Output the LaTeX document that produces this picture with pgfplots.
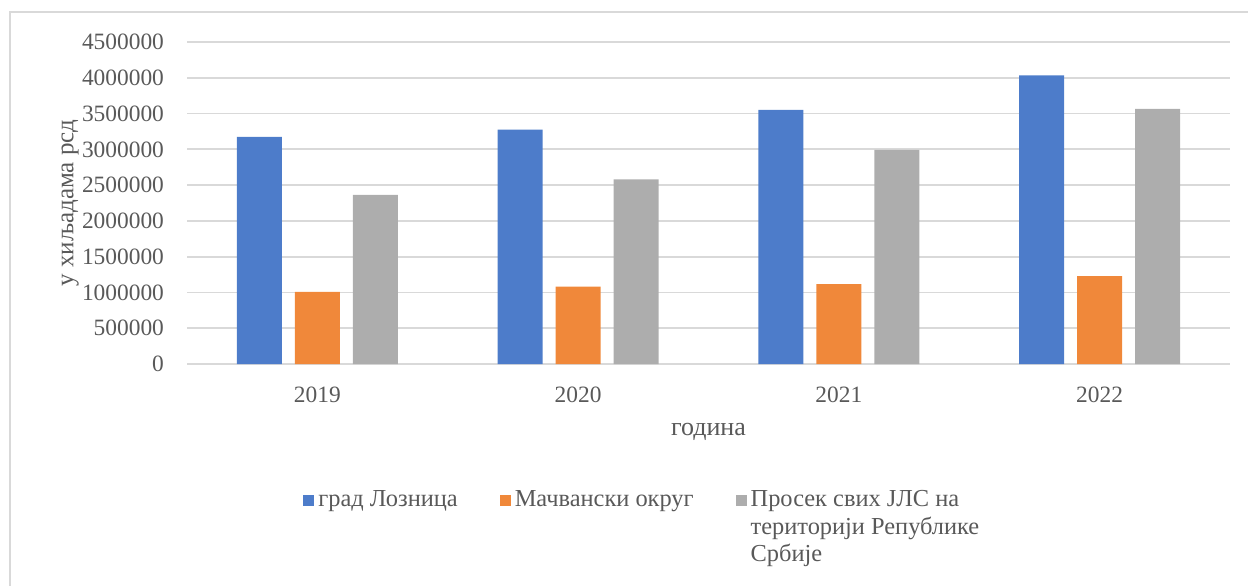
\documentclass[border=0pt]{standalone}
\usepackage{fontspec}
\setmainfont{Liberation Serif}
\usepackage{pgfplots}
\pgfplotsset{compat=1.18}
\definecolor{cblue}{HTML}{4D7CCA}
\definecolor{corange}{HTML}{F0883A}
\definecolor{cgray}{HTML}{ADADAD}
\definecolor{ctext}{HTML}{595959}
\definecolor{cgrid}{HTML}{D9D9D9}
\begin{document}
\begin{tikzpicture}
\useasboundingbox (0,0) rectangle (624pt,-292.5pt);
\draw[cgrid, line width=0.75pt] (5pt,-300pt) -- (5pt,-6pt) -- (630pt,-6pt);
\begin{axis}[
  scale only axis,
  width=521.5pt, height=161pt,
  at={(93.5pt,-182pt)}, anchor=south west,
  ymin=0, ymax=4500000,
  xmin=-0.5, xmax=3.5,
  axis line style={draw=none},
  ymajorgrids, grid style={cgrid, line width=0.9pt},
  scaled y ticks=false,
  ytick={0,500000,...,4500000},
  yticklabels={0,500000,1000000,1500000,2000000,2500000,3000000,3500000,4000000,4500000},
  xtick={0,1,2,3},
  xticklabels={2019,2020,2021,2022},
  major tick length=0pt,
  tick label style={font=\fontsize{11.7pt}{14pt}\selectfont, text=ctext},
  yticklabel style={anchor=east, xshift=-8pt},
  xticklabel style={anchor=north, yshift=-8pt},
  /pgf/number format/assume math mode=true,
  ybar=6.5pt, bar width=22.5pt,
  xlabel={година}, ylabel={у хиљадама рсд},
  xlabel style={at={(axis description cs:0.5,-0.211)}, anchor=center, font=\fontsize{13pt}{15pt}\selectfont, text=ctext},
  ylabel style={at={(axis description cs:-0.112,0.5)}, anchor=center, rotate=0, font=\fontsize{12.5pt}{15pt}\selectfont, text=ctext},
  legend columns=3,
  legend style={at={(axis description cs:0.1055,-0.37)}, anchor=north west, draw=none, fill=none,
    cells={anchor=base west}, nodes={inner xsep=2pt, inner ysep=0pt},
    font=\fontsize{12.2pt}{13.75pt}\selectfont, text=ctext,
    /tikz/every odd column/.append style={column sep=0pt},
    /tikz/every even column/.append style={column sep=19pt}},
  legend image code/.code={\fill[#1] (0pt,0.5pt) rectangle (5.5pt,6pt);},
]
\addplot[fill=cblue, draw=none] coordinates {(0,3174000) (1,3276000) (2,3550000) (3,4033000)};
\addplot[fill=corange, draw=none] coordinates {(0,1008000) (1,1083000) (2,1115000) (3,1227000)};
\addplot[fill=cgray, draw=none] coordinates {(0,2365000) (1,2579000) (2,2993000) (3,3564000)};
\legend{град Лозница, Мачвански округ, {\begin{tabular}[t]{@{}l@{}}Просек свих ЈЛС на\\територији Републике\\Србије\end{tabular}}}
\end{axis}
\end{tikzpicture}
\end{document}
